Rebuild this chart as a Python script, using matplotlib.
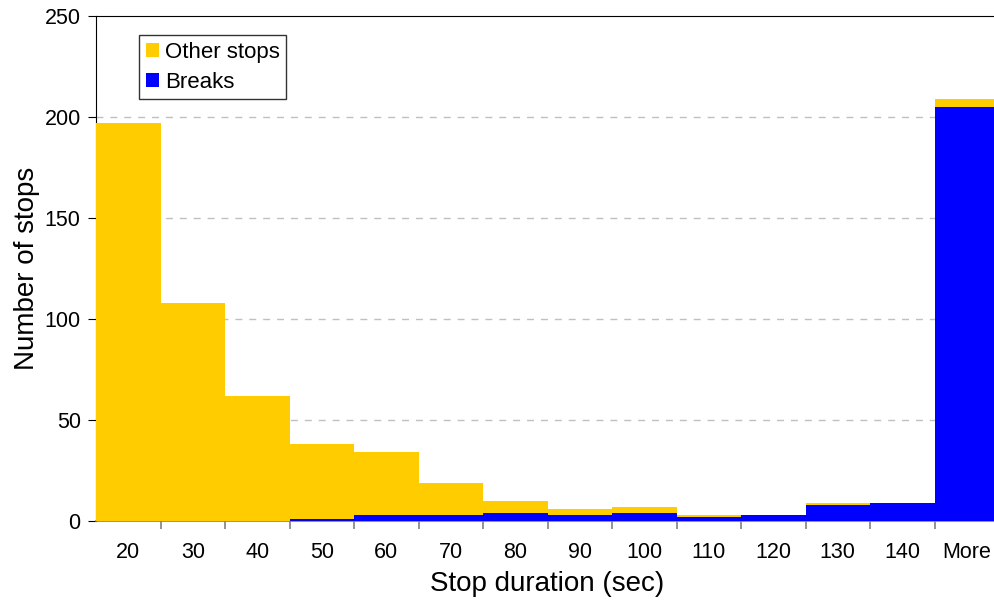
import matplotlib
matplotlib.use("Agg")
import matplotlib.pyplot as plt
import numpy as np

plt.rcParams['font.family'] = ['Liberation Sans', 'DejaVu Sans']

categories = ["20", "30", "40", "50", "60", "70", "80", "90", "100",
              "110", "120", "130", "140", "More"]
totals = [197, 108, 62, 38, 34, 19, 10, 6, 7, 3, 3, 9, 9, 209]
breaks = [0, 0, 0, 1, 3, 3, 4, 3, 4, 2, 3, 8, 9, 205]
others = [t - b for t, b in zip(totals, breaks)]

yellow = "#ffcc00"
blue = "#0000ff"

fig = plt.figure(figsize=(9.95, 6.01), dpi=100)
# right edge of plot area runs just past the image border, as in the original
ax = fig.add_axes([96 / 995, 1 - 521 / 601, (999 - 96) / 995, (521 - 16) / 601])

x = np.arange(len(categories))
ax.bar(x, breaks, width=1.0, color=blue, label="Breaks", zorder=3, linewidth=0)
ax.bar(x, others, width=1.0, bottom=breaks, color=yellow, label="Other stops",
       zorder=3, linewidth=0)

ax.set_xlim(-0.5, len(categories) - 0.5)
ax.set_ylim(0, 250)
ax.set_yticks([0, 50, 100, 150, 200, 250])
for v in [50, 100, 150, 200]:
    ax.axhline(v, color="#c0c0c0", linestyle=(0, (5, 5)), linewidth=1, zorder=1)

ax.set_xticks(x)
ax.set_xticklabels(categories)
ax.set_xticks(np.arange(len(categories)) + 0.5, minor=True)
ax.tick_params(axis="x", which="major", length=0, pad=15, labelsize=15.5)
ax.tick_params(axis="x", which="minor", length=6, color="#808080", width=1.2)
ax.tick_params(axis="y", length=6, labelsize=15.5, pad=5)

ax.spines["right"].set_visible(False)
ax.spines["bottom"].set_color("#808080")
ax.spines["bottom"].set_linewidth(1.2)

ax.set_xlabel("Stop duration (sec)", fontsize=20, labelpad=6)
ax.set_ylabel("Number of stops", fontsize=20, labelpad=3)

h, l = ax.get_legend_handles_labels()
leg = ax.legend(h[::-1], l[::-1], loc="upper left", bbox_to_anchor=(0.048, 0.962),
                fontsize=16, frameon=True, fancybox=False, handlelength=0.6,
                handleheight=0.6, handletextpad=0.25, borderpad=0.3,
                labelspacing=0.4, borderaxespad=0)
leg.get_frame().set_edgecolor("black")
leg.get_frame().set_linewidth(1)

fig.savefig("out.png", dpi=100)
